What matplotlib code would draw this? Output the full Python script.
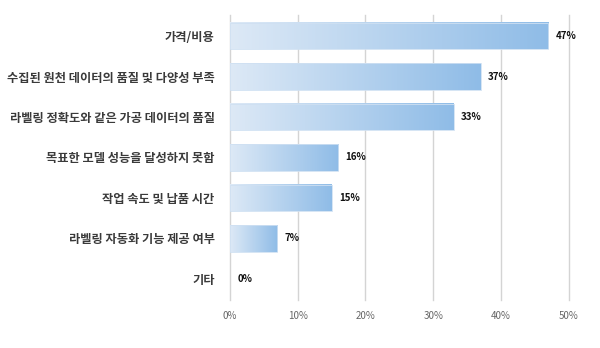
import matplotlib
matplotlib.use("Agg")
import matplotlib.pyplot as plt
import numpy as np
from matplotlib.colors import LinearSegmentedColormap

plt.rcParams['font.family'] = ['Noto Sans CJK KR', 'DejaVu Sans']

categories = [
    "가격/비용",
    "수집된 원천 데이터의 품질 및 다양성 부족",
    "라벨링 정확도와 같은 가공 데이터의 품질",
    "목표한 모델 성능을 달성하지 못함",
    "작업 속도 및 납품 시간",
    "라벨링 자동화 기능 제공 여부",
    "기타",
]
values = [47, 37, 33, 16, 15, 7, 0]
xticks = [0, 10, 20, 30, 40, 50]

grad = LinearSegmentedColormap.from_list("bar", ["#dde9f6", "#8fbce7"])

fig = plt.figure(figsize=(6, 3.48), dpi=100)
ax = fig.add_axes([0.383, 0.138, 0.565, 0.819])

# vertical grid, drawn by hand so the 50% line is not clipped
for x in xticks:
    ax.axvline(x, color="#d4d4d4", lw=1.0, zorder=0, clip_on=False)

h = 0.66
ramp = np.linspace(0, 1, 256).reshape(1, -1)
for i, v in enumerate(values):
    if v > 0:
        ax.imshow(ramp, cmap=grad, aspect="auto", interpolation="bilinear",
                  extent=(0, v, i + h / 2, i - h / 2), zorder=2)
        ax.add_patch(plt.Rectangle((0, i - h / 2), v, h, fill=False,
                                   edgecolor="#cfe0f2", lw=0.6, zorder=3))
    ax.text(v + 1.1, i, f"{v}%", va="center", ha="left", fontsize=7,
            fontweight="bold", color="#111111", zorder=4)

ax.set_xlim(0, 50)
ax.set_ylim(len(categories) - 0.48, -0.52)

ax.set_yticks(range(len(categories)))
ax.set_yticklabels(categories, fontsize=8.8, fontweight="bold", color="#3a3a3a")
ax.set_xticks(xticks)
ax.set_xticklabels([f"{x}%" for x in xticks], fontsize=7, color="#666666")
ax.tick_params(axis="both", length=0)
ax.tick_params(axis="y", pad=11)
ax.tick_params(axis="x", pad=8)

for s in ax.spines.values():
    s.set_visible(False)

fig.savefig("out.png", dpi=100, facecolor="white")
